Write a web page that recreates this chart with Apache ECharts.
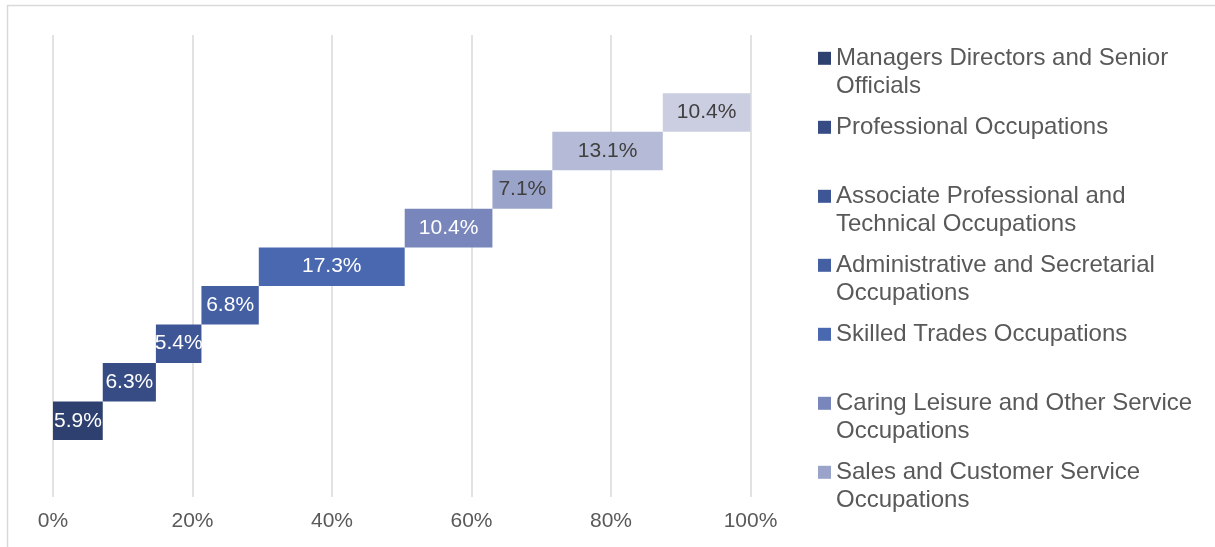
<!DOCTYPE html>
<html>
<head>
<meta charset="utf-8">
<script src="https://cdn.jsdelivr.net/npm/echarts@6/dist/echarts.min.js"></script>
<style>
  html, body { margin: 0; padding: 0; background: #ffffff; }
  #chart { width: 1215px; height: 547px; }
</style>
</head>
<body>
<div id="chart"></div>
<script>
// Occupation groups, bottom row first
const occupations = [
  'Managers Directors and Senior Officials',
  'Professional Occupations',
  'Associate Professional and Technical Occupations',
  'Administrative and Secretarial Occupations',
  'Skilled Trades Occupations',
  'Caring Leisure and Other Service Occupations',
  'Sales and Customer Service Occupations',
  'Process Plant and Machine Operatives',
  'Elementary Occupations'
];
// Share of employment for each group (%)
const shares = [5.9, 6.3, 5.4, 6.8, 17.3, 10.4, 7.1, 13.1, 10.4];

// Legend entries shown on the right, wrapped as in the key
const legendLines = [
  ['Managers Directors and Senior', 'Officials'],
  ['Professional Occupations'],
  ['Associate Professional and', 'Technical Occupations'],
  ['Administrative and Secretarial', 'Occupations'],
  ['Skilled Trades Occupations'],
  ['Caring Leisure and Other Service', 'Occupations'],
  ['Sales and Customer Service', 'Occupations']
];

const palette = ['#2e4070', '#374c85', '#3e5596', '#455fa3', '#4a68b0',
                 '#7886bc', '#9aa4ca', '#b5bbd6', '#cbcee0'];
const labelColors = ['#ffffff', '#ffffff', '#ffffff', '#ffffff', '#ffffff',
                     '#ffffff', '#404040', '#404040', '#404040'];

const FONT = '"Liberation Sans", Arial, sans-serif';
const LINE_H = 27.6;

// Running total: each step starts where the previous one ended
const total = shares.reduce((a, b) => a + b, 0);
const offsets = [];
shares.reduce((acc, v) => { offsets.push(acc); return acc + v; }, 0);
const rows = shares.map((_, i) => String(i));

const series = [{
  type: 'bar',
  xAxisIndex: 1,
  yAxisIndex: 1,
  stack: 'steps',
  silent: true,
  barCategoryGap: '0%',
  itemStyle: { color: 'transparent' },
  data: offsets
}].concat(occupations.map((name, i) => ({
  name: name,
  type: 'bar',
  xAxisIndex: 1,
  yAxisIndex: 1,
  stack: 'steps',
  barCategoryGap: '0%',
  itemStyle: { color: palette[i] },
  label: {
    show: true,
    position: 'inside',
    fontFamily: FONT,
    fontSize: 21,
    color: labelColors[i],
    formatter: p => p.value.toFixed(1) + '%'
  },
  data: shares.map((v, j) => (j === i ? v : '-'))
})));

// One key entry per block, evenly spaced; the first text line sits beside the swatch
const legends = legendLines.map((lines, i) => {
  const extra = LINE_H * (lines.length - 1);
  return {
    orient: 'vertical',
    left: 818,
    top: 44.5 + 69 * i - extra,
    padding: 0,
    icon: 'rect',
    itemWidth: 13,
    itemHeight: 13,
    selectedMode: false,
    data: [occupations[i]],
    formatter: () => lines.map(l => '{t|' + l + '}').join('\n'),
    textStyle: {
      color: '#595959',
      fontFamily: FONT,
      fontSize: 24,
      lineHeight: LINE_H,
      padding: extra ? [extra, 0, 0, 0] : 0,
      rich: { t: { color: '#595959', fontFamily: FONT, fontSize: 24, lineHeight: LINE_H } }
    }
  };
});

const chart = echarts.init(document.getElementById('chart'), null, { renderer: 'canvas' });
chart.setOption({
  animation: false,
  backgroundColor: '#ffffff',
  graphic: [{
    type: 'rect',
    silent: true,
    shape: { x: 7.5, y: 5.5, width: 1400, height: 700 },
    style: { fill: 'none', stroke: '#d9d9d9', lineWidth: 1.5 }
  }],
  legend: legends,
  grid: [
    { left: 53, right: 464.5, top: 35, bottom: 50 },
    { left: 53, right: 464.5, top: 93.3, bottom: 107 }
  ],
  xAxis: [{
    gridIndex: 0,
    type: 'value',
    min: 0,
    max: 100,
    interval: 20,
    axisLine: { show: false },
    axisTick: { show: false },
    splitLine: { show: true, lineStyle: { color: '#d9d9d9', width: 1.5 } },
    axisLabel: { formatter: '{value}%', color: '#595959', fontFamily: FONT, fontSize: 21, margin: 14 }
  }, {
    gridIndex: 1,
    type: 'value',
    min: 0,
    max: total,
    show: false
  }],
  yAxis: [{
    gridIndex: 0,
    type: 'value',
    min: 0,
    max: 1,
    show: false
  }, {
    gridIndex: 1,
    type: 'category',
    data: rows,
    show: false
  }],
  series: series
});
</script>
</body>
</html>
